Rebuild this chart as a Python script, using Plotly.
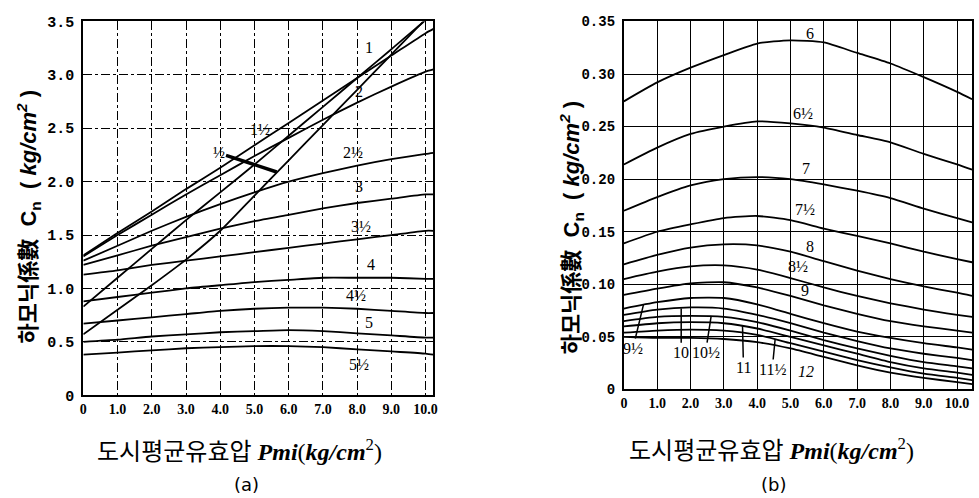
import plotly.graph_objects as go

# ---------------- data : chart (a) ----------------
pmi_a = [0, 1, 2, 3, 4, 5, 6, 7, 8, 9, 10, 10.23]
labels_a = ["1", "2", "2½", "3", "3½", "4", "4½", "5", "5½", "1½", "½"]
cn_1 = [1.31, 1.52, 1.72, 1.93, 2.13, 2.34, 2.55, 2.76, 2.97, 3.18, 3.39, 3.43]
cn_2 = [1.30, 1.50, 1.69, 1.88, 2.06, 2.24, 2.41, 2.58, 2.74, 2.89, 3.03, 3.05]
cn_2h = [1.26, 1.40, 1.54, 1.67, 1.79, 1.90, 2.00, 2.08, 2.15, 2.21, 2.26, 2.27]
cn_3 = [1.22, 1.31, 1.40, 1.48, 1.56, 1.63, 1.69, 1.75, 1.80, 1.84, 1.88, 1.88]
cn_3h = [1.13, 1.17, 1.22, 1.26, 1.30, 1.34, 1.38, 1.42, 1.46, 1.50, 1.54, 1.54]
cn_4 = [0.88, 0.92, 0.96, 1.00, 1.03, 1.06, 1.08, 1.10, 1.10, 1.10, 1.09, 1.09]
cn_4h = [0.67, 0.70, 0.73, 0.76, 0.79, 0.81, 0.82, 0.82, 0.81, 0.79, 0.77, 0.77]
cn_5 = [0.50, 0.52, 0.55, 0.57, 0.59, 0.60, 0.61, 0.60, 0.58, 0.56, 0.54, 0.54]
cn_5h = [0.38, 0.40, 0.42, 0.44, 0.45, 0.46, 0.46, 0.45, 0.43, 0.41, 0.39, 0.38]
cn_1h = [0.83, 1.10, 1.37, 1.64, 1.90, 2.16, 2.43, 2.70, 2.97, 3.24, 3.51, 3.56]
cn_h = [0.57, 0.80, 1.03, 1.27, 1.54, 1.87, 2.20, 2.53, 2.86, 3.19, 3.52, 3.58]
series_a = [cn_1, cn_2, cn_2h, cn_3, cn_3h, cn_4, cn_4h, cn_5, cn_5h, cn_1h, cn_h]

# ---------------- data : chart (b) ----------------
pmi_b = [0, 1, 2, 3, 4, 5, 6, 7, 8, 9, 10, 10.45]
labels_b = ["6", "6½", "7", "7½", "8", "8½", "9", "9½", "10", "10½", "11", "11½", "12"]
cn_6 = [0.274, 0.292, 0.306, 0.318, 0.329, 0.332, 0.330, 0.320, 0.310, 0.297, 0.283, 0.276]
cn_6h = [0.214, 0.230, 0.243, 0.250, 0.255, 0.253, 0.249, 0.242, 0.235, 0.224, 0.214, 0.209]
cn_7 = [0.170, 0.183, 0.194, 0.200, 0.202, 0.200, 0.195, 0.189, 0.182, 0.172, 0.163, 0.159]
cn_7h = [0.139, 0.150, 0.157, 0.163, 0.165, 0.161, 0.153, 0.146, 0.139, 0.131, 0.124, 0.121]
cn_8 = [0.119, 0.128, 0.135, 0.138, 0.137, 0.131, 0.122, 0.113, 0.105, 0.098, 0.092, 0.089]
cn_8h = [0.105, 0.112, 0.117, 0.118, 0.114, 0.106, 0.097, 0.089, 0.082, 0.076, 0.071, 0.069]
cn_9 = [0.090, 0.096, 0.101, 0.102, 0.097, 0.089, 0.080, 0.072, 0.065, 0.060, 0.056, 0.054]
cn_9h = [0.077, 0.083, 0.087, 0.087, 0.081, 0.072, 0.063, 0.055, 0.049, 0.044, 0.040, 0.038]
cn_10 = [0.071, 0.076, 0.078, 0.077, 0.071, 0.063, 0.054, 0.046, 0.039, 0.034, 0.030, 0.028]
cn_10h = [0.065, 0.069, 0.070, 0.069, 0.064, 0.056, 0.047, 0.039, 0.032, 0.026, 0.022, 0.020]
cn_11 = [0.060, 0.063, 0.064, 0.063, 0.058, 0.050, 0.042, 0.034, 0.026, 0.020, 0.016, 0.014]
cn_11h = [0.054, 0.056, 0.057, 0.056, 0.052, 0.044, 0.036, 0.028, 0.021, 0.015, 0.011, 0.009]
cn_12 = [0.050, 0.049, 0.049, 0.048, 0.045, 0.039, 0.031, 0.023, 0.016, 0.011, 0.007, 0.005]
series_b = [cn_6, cn_6h, cn_7, cn_7h, cn_8, cn_8h, cn_9, cn_9h, cn_10, cn_10h, cn_11, cn_11h, cn_12]

# ---------------- tick labels ----------------
xtick_vals = [0, 1, 2, 3, 4, 5, 6, 7, 8, 9, 10]
xtick_text = ["0", "1.0", "2.0", "3.0", "4.0", "5.0", "6.0", "7.0", "8.0", "9.0", "10.0"]
ytick_vals_a = [0, 0.5, 1.0, 1.5, 2.0, 2.5, 3.0, 3.5]
ytick_text_a = ["0", "0.5", "1.0", "1.5", "2.0", "2.5", "3.0", "3.5"]
ytick_vals_b = [0, 0.05, 0.10, 0.15, 0.20, 0.25, 0.30, 0.35]
ytick_text_b = ["0", "0.05", "0.10", "0.15", "0.20", "0.25", "0.30", "0.35"]

# ---------------- figure ----------------
fig = go.Figure()
LINE = dict(color="black", width=1.8, shape="spline", smoothing=0.6)

for name, ys in zip(labels_a, series_a):
    fig.add_trace(go.Scatter(x=pmi_a, y=ys, mode="lines", line=LINE, name=name,
                             xaxis="x", yaxis="y", showlegend=False, hoverinfo="skip"))
for name, ys in zip(labels_b, series_b):
    fig.add_trace(go.Scatter(x=pmi_b, y=ys, mode="lines", line=LINE, name=name,
                             xaxis="x2", yaxis="y2", showlegend=False, hoverinfo="skip"))

XTICK_FONT = dict(family="Liberation Serif", size=14, color="black", weight="bold")
YTICK_FONT = dict(family="Liberation Mono", size=15, color="black", weight="bold")
YTICK_FONT_B = dict(family="Liberation Mono", size=14, color="black", weight="bold")
common_axis = dict(showline=True, linecolor="black", linewidth=2, mirror=True,
                   showgrid=True, gridcolor="black", zeroline=False, ticks="")

fig.update_layout(
    width=979, height=498,
    margin=dict(l=0, r=0, t=0, b=0),
    paper_bgcolor="white", plot_bgcolor="white",
    xaxis=dict(domain=[0.0817, 0.4423], range=[0, 10.23], tickvals=xtick_vals,
               ticktext=xtick_text, tickfont=XTICK_FONT, anchor="y",
               griddash="dashdot", gridwidth=1.3, **common_axis),
    yaxis=dict(domain=[0.1928, 0.970], range=[0, 3.5], tickvals=ytick_vals_a,
               ticktext=ytick_text_a, tickfont=YTICK_FONT, anchor="x",
               griddash="dashdot", gridwidth=1.3, ticklabelstandoff=4, **common_axis),
    xaxis2=dict(domain=[0.6384, 0.997], range=[0, 10.45], tickvals=xtick_vals,
                ticktext=xtick_text, tickfont=XTICK_FONT, anchor="y2",
                gridwidth=1.3, **common_axis),
    yaxis2=dict(domain=[0.2048, 0.970], range=[0, 0.35], tickvals=ytick_vals_b,
                ticktext=ytick_text_b, tickfont=YTICK_FONT_B, anchor="x2",
                gridwidth=1.3, ticklabelstandoff=4, **common_axis),
)

# ---------------- curve labels ----------------
LBL_FONT = dict(family="Liberation Serif", size=16, color="black")
pos_a = {"1": (8.35, 3.26), "2": (8.06, 2.84), "1½": (5.16, 2.49),
         "2½": (7.88, 2.27), "3": (8.06, 1.95), "3½": (8.12, 1.58), "4": (8.41, 1.22),
         "4½": (7.97, 0.93), "5": (8.35, 0.68), "5½": (8.06, 0.29)}
for t, (x, y) in pos_a.items():
    fig.add_annotation(x=x, y=y, xref="x", yref="y", text=t, showarrow=False, font=LBL_FONT,
                       xanchor="center", yanchor="middle")
# "½" with thick pointer
fig.add_annotation(x=5.65, y=2.09, xref="x", yref="y", ax=3.95, ay=2.27, axref="x", ayref="y",
                   text="½", showarrow=True, arrowhead=0, arrowwidth=3.5, arrowcolor="black",
                   font=LBL_FONT)

pos_b = {"6": (5.6, 0.339), "6½": (5.37, 0.262), "7": (5.46, 0.210), "7½": (5.43, 0.171),
         "8": (5.58, 0.136), "8½": (5.22, 0.117), "9": (5.43, 0.0945)}
for t, (x, y) in pos_b.items():
    fig.add_annotation(x=x, y=y, xref="x2", yref="y2", text=t, showarrow=False, font=LBL_FONT,
                       xanchor="center", yanchor="middle")
fig.add_annotation(x=5.46, y=0.0175, xref="x2", yref="y2", text="<i>12</i>", showarrow=False,
                   font=LBL_FONT, xanchor="center", yanchor="middle")
# labels with leader lines up to their curves
lead_b = [("9½", 0.27, 0.039, 0.59, 0.081),
          ("10", 1.72, 0.035, 1.72, 0.077),
          ("10½", 2.45, 0.035, 2.62, 0.070),
          ("11", 3.59, 0.021, 3.56, 0.061),
          ("11½", 4.45, 0.019, 4.54, 0.048)]
for t, lx, ly, px, py in lead_b:
    fig.add_annotation(x=px, y=py, xref="x2", yref="y2", ax=lx, ay=ly, axref="x2", ayref="y2",
                       text=t, showarrow=True, arrowhead=0, arrowwidth=1.5, arrowcolor="black",
                       font=LBL_FONT, standoff=0)

# ---------------- axis titles ----------------
ytitle = ("<b>하모닉係數&nbsp;&nbsp;C<sub>n</sub>&nbsp;&nbsp;(&nbsp;<i>kg/cm<sup>2</sup></i>&nbsp;)</b>")
xtitle = "도시평균유효압&nbsp;<b><i>Pmi</i></b>(<b><i>kg/cm</i></b><sup>2</sup>)"
YT_FONT = dict(family="Liberation Sans, Noto Sans CJK KR", size=22, color="black")
XT_FONT = dict(family="Liberation Serif, Noto Sans CJK KR", size=24, color="black")
for xp, yp in [(0.0255, 0.564), (0.584, 0.542)]:
    fig.add_annotation(x=xp, y=yp, xref="paper", yref="paper", text=ytitle, textangle=-90,
                       showarrow=False, font=YT_FONT, xanchor="center", yanchor="middle")
for xp, yp in [(0.243, 0.078), (0.790, 0.082)]:
    fig.add_annotation(x=xp, y=yp, xref="paper", yref="paper", text=xtitle,
                       showarrow=False, font=XT_FONT, xanchor="center", yanchor="middle")
for xp, t in [(0.250, "(a)"), (0.792, "(b)")]:
    fig.add_annotation(x=xp, y=0.008, xref="paper", yref="paper", text=t,
                       showarrow=False, font=dict(family="DejaVu Sans", size=18, color="black"),
                       xanchor="center", yanchor="middle")

fig.write_html("out.html", config={"displayModeBar": False},
               post_script="document.body.style.margin='0';")
